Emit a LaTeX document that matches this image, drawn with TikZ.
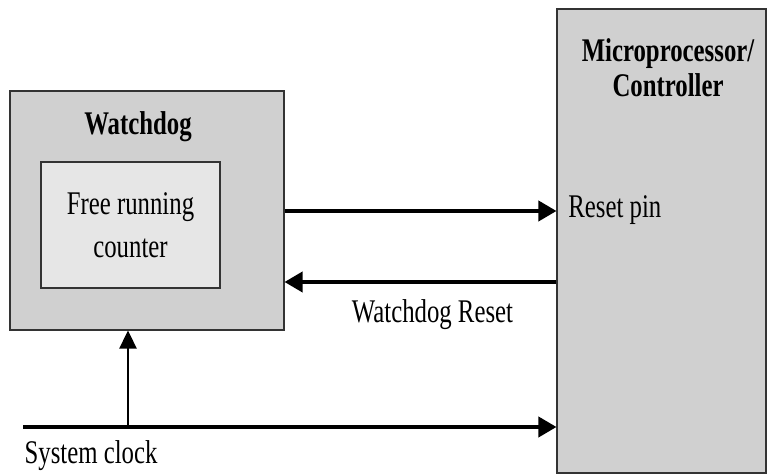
\documentclass[tikz,border=0pt]{standalone}
\usepackage{fontspec}
\setmainfont[FakeStretch=0.75]{Liberation Serif}
\usetikzlibrary{%
  arrows.meta,%
  calc,%
  positioning%
}
\definecolor{boxgray}{RGB}{208,208,208}
\definecolor{innergray}{RGB}{230,230,230}
\tikzset{
  blockbox/.style={draw=black!80,fill=boxgray,line width=0.6pt,inner sep=0pt},
  countbox/.style={draw=black!80,fill=innergray,line width=0.6pt,inner sep=0pt,align=center},
  txt/.style={inner sep=0pt,font=\fontsize{18.8}{24.4}\selectfont},
  sig/.style={line width=2.1pt,-{Triangle[length=0.36cm,width=0.4cm]}},
  thinsig/.style={line width=1.4pt,-{Triangle[length=0.36cm,width=0.34cm]}}
}

\begin{document}
\begin{tikzpicture}
  \useasboundingbox (0,0) rectangle (15.34,9.48);
  % blocks
  \node[blockbox,minimum width=5.48cm,minimum height=4.78cm] (wd) at (2.94,5.27) {};
  \node[countbox,txt,minimum width=3.58cm,minimum height=2.52cm] (frc) at (2.61,4.98)
  {Free running\\counter};
  \node[blockbox,minimum width=4.18cm,minimum height=9.28cm] (mcu) at (13.23,4.66) {};
  % titles
  \node[txt,font=\fontsize{18.8}{24.4}\selectfont\bfseries,anchor=base] (wdtitle) at (2.76,6.78) {Watchdog};
  \node[txt,font=\fontsize{18.8}{20.4}\selectfont\bfseries,anchor=base,align=center] (mcutitle) at (13.36,7.54)
  {Microprocessor/\\Controller};
  \node[txt,anchor=base west] (rstpin) at (11.36,5.12) {Reset pin};
  % signals
  \coordinate (pin) at (mcu.west |- 0,5.26);
  \coordinate (wdrst) at (mcu.west |- 0,3.84);
  \coordinate (clk) at (0.46,0.94);
  \coordinate (tap) at (2.56,0.94);
  \draw[sig] (wd.east |- pin) -- (pin);
  \draw[sig] (wdrst) -- (wd.east |- wdrst) node[txt,midway,anchor=base,xshift=0.24cm,yshift=-0.82cm] (wdrstlbl) {Watchdog Reset};
  \draw[sig] (clk) -- (mcu.west |- clk);
  \draw[thinsig] (tap) -- (tap |- wd.south);
  \node[txt,anchor=base] (clklbl) at (1.82,0.2) {System clock};
\end{tikzpicture}
\end{document}
